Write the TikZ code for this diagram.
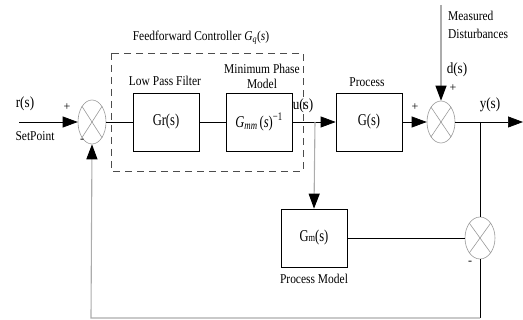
\documentclass[tikz,border=0pt]{standalone}
\usepackage{fontspec}
\setmainfont{Liberation Serif}
\usepackage{graphicx}
\usetikzlibrary{arrows.meta,shapes.geometric}
\newcommand{\nt}[1]{\scalebox{0.85}[1]{#1}}
\newcommand{\bt}[1]{\scalebox{0.76}[1]{#1}}
\begin{document}
\begin{tikzpicture}[x=1pt,y=-1pt,
  blk/.style={draw, line width=0.7pt, minimum width=66pt, minimum height=58pt, inner sep=0pt, font=\fontsize{16.5}{18}\selectfont},
  sumnode/.style={ellipse, draw=gray!80, line width=0.6pt, minimum width=28pt, minimum height=44pt, inner sep=0pt},
  lbl/.style={inner sep=0pt, font=\fontsize{13.5}{14}\selectfont},
  vlbl/.style={inner sep=0pt, font=\fontsize{15.5}{16}\selectfont},
  slbl/.style={inner sep=0pt, font=\fontsize{12}{12}\selectfont},
  ln/.style={line width=0.7pt},
  gln/.style={line width=1.1pt, draw=gray!65},
  tip/.style={-{Triangle[length=15pt,width=11pt,color=black]}},
]
\useasboundingbox (0,0) rectangle (523,320);
% dashed controller box
\draw[dash pattern=on 7pt off 5pt, line width=0.8pt, draw=gray!60!black] (111,53) rectangle (303,171);
% summing junctions
\node[sumnode] (s1) at (92,122) {};
\node[sumnode, minimum height=42pt] (s2) at (441,122) {};
\node[sumnode, minimum width=30pt, minimum height=42pt] (s3) at (480,238) {};
\foreach \s in {s1,s2,s3}{
  \draw[gray!80, line width=0.6pt] (\s.north west) -- (\s.south east);
  \draw[gray!80, line width=0.6pt] (\s.north east) -- (\s.south west);
}
% blocks
\node[blk] (gr) at (166,122) {\bt{Gr(s)}};
\node[blk] (gmm) at (259,122) {\bt{\textit{G}\textsubscript{\textit{mm}}\,(\textit{s})\textsuperscript{−1}}};
\node[blk] (proc) at (369,122) {\bt{G(s)}};
\node[blk] (gm) at (314,238) {\bt{G{\fontsize{11}{12}\selectfont m}(s)}};
% labels
\node[lbl] (title) at (201,38) {\nt{Feedforward Controller \textit{G}\textsubscript{\textit{q}}(\textit{s})}};
\node[lbl] (lpf) at (165,81) {\nt{Low Pass Filter}};
\node[lbl, align=center] (mpm) at (262,76) {\nt{Minimum Phase}\\[1pt]\nt{Model}};
\node[lbl] (procl) at (367,82) {\nt{Process}};
\node[lbl] (pml) at (314,279) {\nt{Process Model}};
\node[lbl, anchor=west] (meas) at (448,16) {\nt{Measured}};
\node[lbl, anchor=west] (dist) at (448,34) {\nt{Disturbances}};
\node[vlbl] (rs) at (25,104) {\nt{r(s)}};
\node[lbl] (sp) at (35,136) {\nt{SetPoint}};
\node[vlbl] (us) at (303,106) {\nt{u(s)}};
\node[vlbl] (ds) at (457,70) {\nt{d(s)}};
\node[vlbl] (ys) at (490,105) {\nt{y(s)}};
\node[slbl] (p1) at (67,107) {+};
\node[slbl] (m1) at (82,141) {-};
\node[slbl] (p2) at (415,107) {+};
\node[slbl] (p3) at (453,88) {+};
\node[slbl] (m3) at (470,263) {-};
% connectors
\coordinate (in) at (19,122);
\coordinate (out) at (523,122);
\coordinate (bu) at (315,122);
\coordinate (by) at (480,122);
\coordinate (dtop) at (441,5);
\coordinate (fb1) at (480,318);
\coordinate (fb2) at (91,318);
\draw[ln, tip] (in) -- (s1.west);
\draw[ln] (s1.east) -- (gr.west);
\draw[ln] (gr.east) -- (gmm.west);
\draw[ln, tip] (gmm.east) -- (proc.west);
\draw[gln, tip] (bu) -- (gm.north);
\draw[ln, tip] (proc.east) -- (s2.west);
\draw[gln, tip] (dtop) -- (s2.north);
\draw[ln, tip] (s2.east) -- (out);
\draw[ln] (by) -- (s3.north);
\draw[ln] (gm.east) -- (s3.west);
\draw[ln] (s3.south) -- (fb1);
\draw[gln, tip] (fb1) -- (fb2) -- (s1.south);
\end{tikzpicture}
\end{document}
